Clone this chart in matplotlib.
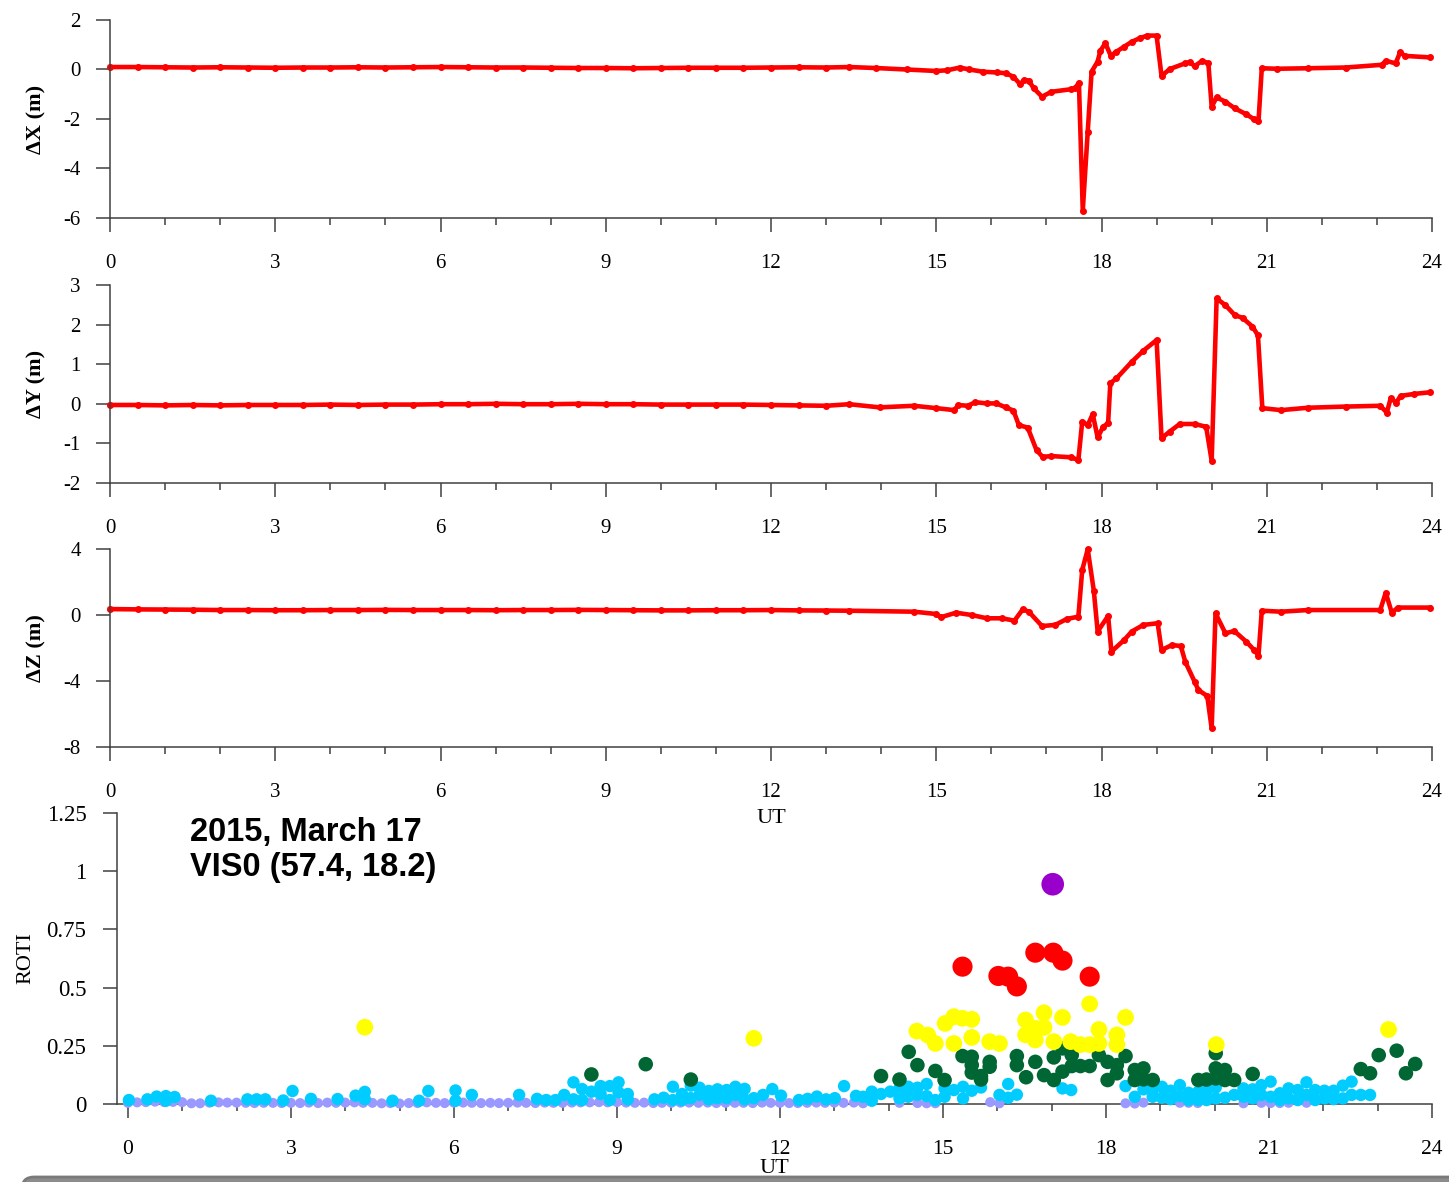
"""ROTI and position error at VIS0, 2015 March 17."""

import matplotlib as mpl
mpl.use("Agg")
import matplotlib.pyplot as plt
from matplotlib.patches import FancyBboxPatch
from matplotlib.ticker import MultipleLocator
from matplotlib.transforms import IdentityTransform

mpl.rcParams.update({
    "font.family": "serif",
    "font.serif": ["Liberation Serif", "DejaVu Serif"],
    "axes.spines.right": False,
    "axes.spines.top": False,
    "axes.linewidth": 1.1,
    "axes.edgecolor": "#404040",
    "xtick.color": "#404040",
    "ytick.color": "#404040",
    "xtick.labelcolor": "black",
    "ytick.labelcolor": "black",
})

W, H = 1449, 1182

# ── Data ─────────────────────────────────────────────────────────────

# position errors (UT hours, metres)
t_dx = [0, 0.5, 1, 1.5, 2, 2.5, 3, 3.5, 4, 4.5, 5, 5.5, 6, 6.5, 7, 7.5, 8,
        8.5, 9, 9.5, 10, 10.5, 11, 11.5, 12, 12.5, 13,
        13.42, 13.9, 14.46, 15.0, 15.2, 15.43, 15.6, 15.85, 16.1, 16.26,
        16.4, 16.52, 16.6, 16.68, 16.77, 16.92, 17.09, 17.44, 17.52, 17.59,
        17.66, 17.75, 17.82, 17.93, 17.98, 18.07, 18.17, 18.27, 18.41, 18.55,
        18.69, 18.83, 19.0, 19.09, 19.24, 19.52, 19.6, 19.69, 19.83, 19.94,
        20.0, 20.09, 20.25, 20.42, 20.63, 20.77, 20.85, 20.91, 21.19, 21.74,
        22.43, 23.09, 23.16, 23.34, 23.42, 23.51, 23.96]
dx = [0.10, 0.10, 0.09, 0.08, 0.09, 0.08, 0.07, 0.08, 0.08, 0.09, 0.08, 0.09,
      0.10, 0.09, 0.08, 0.08, 0.07, 0.06, 0.06, 0.05, 0.06, 0.07, 0.07, 0.07,
      0.08, 0.09, 0.08,
      0.10, 0.06, 0.00, -0.06, -0.03, 0.08, 0.00, -0.09, -0.12, -0.15,
      -0.29, -0.59, -0.42, -0.45, -0.76, -1.10, -0.90, -0.80, -0.76, -0.53,
      -5.70, -2.51, -0.09, 0.32, 0.76, 1.06, 0.55, 0.72, 0.92, 1.12,
      1.26, 1.37, 1.37, -0.26, 0.02, 0.25, 0.30, 0.14, 0.35, 0.25,
      -1.50, -1.13, -1.30, -1.57, -1.81, -2.01, -2.10, 0.05, 0.03, 0.05,
      0.08, 0.19, 0.35, 0.25, 0.69, 0.55, 0.49]

t_dy = [0, 0.5, 1, 1.5, 2, 2.5, 3, 3.5, 4, 4.5, 5, 5.5, 6, 6.5, 7, 7.5, 8,
        8.5, 9, 9.5, 10, 10.5, 11, 11.5, 12, 12.5, 13,
        13.42, 13.97, 14.6, 15.0, 15.33, 15.4, 15.57, 15.71, 15.92, 16.09,
        16.26, 16.4, 16.5, 16.66, 16.82, 16.93, 17.09, 17.44, 17.58, 17.65,
        17.75, 17.84, 17.93, 18.03, 18.12, 18.16, 18.27, 18.55, 18.76, 19.0,
        19.09, 19.24, 19.42, 19.69, 19.9, 20.0, 20.09, 20.25, 20.42, 20.56,
        20.74, 20.84, 20.92, 21.26, 21.74, 22.43, 23.06, 23.18, 23.25, 23.35,
        23.43, 23.68, 23.96]
dy = [-0.03, -0.03, -0.04, -0.03, -0.04, -0.03, -0.03, -0.03, -0.02, -0.03,
      -0.02, -0.02, -0.01, -0.01, 0.00, -0.01, -0.01, 0.00, -0.01, -0.01,
      -0.02, -0.02, -0.02, -0.02, -0.03, -0.04, -0.05,
      -0.01, -0.09, -0.05, -0.11, -0.16, -0.03, -0.05, 0.04, 0.01, 0.01,
      -0.09, -0.17, -0.54, -0.60, -1.17, -1.34, -1.32, -1.35, -1.42, -0.45,
      -0.54, -0.26, -0.85, -0.58, -0.49, 0.52, 0.64, 1.06, 1.34, 1.61,
      -0.87, -0.70, -0.51, -0.51, -0.58, -1.44, 2.66, 2.49, 2.24, 2.17,
      1.95, 1.73, -0.11, -0.16, -0.10, -0.07, -0.05, -0.22, 0.14, 0.03,
      0.20, 0.25, 0.29]

t_dz = [0, 0.5, 1, 1.5, 2, 2.5, 3, 3.5, 4, 4.5, 5, 5.5, 6, 6.5, 7, 7.5, 8,
        8.5, 9, 9.5, 10, 10.5, 11, 11.5, 12, 12.5, 13,
        13.42, 14.6, 15.0, 15.08, 15.36, 15.64, 15.92, 16.19, 16.42, 16.57,
        16.68, 16.92, 17.16, 17.37, 17.58, 17.65, 17.75, 17.86, 17.93, 18.12,
        18.18, 18.41, 18.55, 18.76, 19.02, 19.09, 19.28, 19.44, 19.52, 19.69,
        19.76, 19.92, 20.0, 20.07, 20.25, 20.41, 20.63, 20.77, 20.85, 20.91,
        21.26, 21.74, 23.06, 23.16, 23.27, 23.38, 23.96]
dz = [0.36, 0.34, 0.33, 0.32, 0.30, 0.30, 0.29, 0.29, 0.30, 0.30, 0.31, 0.30,
      0.30, 0.30, 0.29, 0.30, 0.30, 0.31, 0.30, 0.29, 0.28, 0.28, 0.29, 0.29,
      0.30, 0.28, 0.27,
      0.26, 0.20, 0.06, -0.14, 0.14, 0.00, -0.20, -0.20, -0.34, 0.34,
      0.20, -0.67, -0.60, -0.24, -0.10, 2.73, 3.98, 1.48, -1.00, -0.06,
      -2.22, -1.52, -1.00, -0.60, -0.50, -2.12, -1.82, -1.88, -2.83, -4.04,
      -4.55, -4.91, -6.87, 0.10, -1.11, -0.97, -1.62, -2.12, -2.46, 0.26,
      0.20, 0.30, 0.30, 1.35, 0.14, 0.45, 0.45]

# ROTI (TECU/min), grouped by colour class
roti_lav_t = [0, 0.17, 0.33, 0.5, 0.67, 0.83, 1, 1.17, 1.33, 1.5, 1.67, 1.83,
              2, 2.17, 2.33, 2.5, 2.67, 2.83, 3, 3.17, 3.33, 3.5, 3.67, 3.83,
              4, 4.17, 4.33, 4.5, 4.67, 4.83, 5, 5.17, 5.33, 5.5, 5.67, 5.83,
              6, 6.17, 6.33, 6.5, 6.67, 6.83, 7, 7.17, 7.33, 7.5, 7.67, 7.83,
              8, 8.17, 8.33, 8.5, 8.67, 8.83, 9, 9.17, 9.33, 9.5, 9.67, 9.83,
              10, 10.17, 10.33, 10.5, 10.67, 10.83, 11, 11.17, 11.33, 11.5,
              11.67, 11.83, 12, 12.17, 12.33, 12.5, 12.67, 12.83, 13, 13.17,
              13.36, 13.53, 14.2, 14.53, 14.7, 14.86, 15.87, 16.04, 18.36,
              18.53, 18.69, 19.36, 19.52, 19.69, 20.53, 20.86, 21.03, 21.2,
              21.36, 21.69]
roti_lav_v = [0.005, 0.007, 0.008, 0.010, 0.008, 0.009, 0.008, 0.003, 0.003,
              0.006, 0.007, 0.006, 0.006, 0.005, 0.004, 0.005, 0.005, 0.004,
              0.005, 0.004, 0.006, 0.004, 0.006, 0.005, 0.006, 0.007, 0.005,
              0.005, 0.003, 0.004, 0.002, 0.004, 0.004, 0.007, 0.005, 0.004,
              0.006, 0.006, 0.005, 0.004, 0.005, 0.004, 0.005, 0.006, 0.005,
              0.004, 0.006, 0.005, 0.005, 0.006, 0.007, 0.007, 0.008, 0.007,
              0.008, 0.006, 0.005, 0.006, 0.004, 0.005, 0.005, 0.006, 0.006,
              0.005, 0.006, 0.004, 0.005, 0.005, 0.005, 0.004, 0.006, 0.005,
              0.005, 0.004, 0.004, 0.005, 0.006, 0.005, 0.006, 0.005, 0.006,
              0.003, 0.005, 0.004, 0.003, 0.003, 0.008, 0.003, 0.003, 0.002,
              0.006, 0.005, 0.005, 0.004, 0.003, 0.005, 0.004, 0.004, 0.005,
              0.005]

roti_cyan_t = [0.02, 0.36, 0.53, 0.7, 0.7, 0.86, 1.53, 2.2, 2.37, 2.53, 2.86,
               3.03, 3.37, 3.86, 4.19, 4.36, 4.36, 4.87, 5.36, 5.53, 6.03,
               6.03, 6.33, 7.2, 7.53, 7.7, 7.87, 8.03, 8.2, 8.2, 8.36, 8.36,
               8.53, 8.7, 8.7, 8.87, 8.87, 9.03, 9.03, 9.2, 9.2, 9.69, 9.86,
               10.03, 10.03, 10.2, 10.2, 10.36, 10.36, 10.52, 10.52, 10.69,
               10.69, 10.85, 10.85, 11.02, 11.02, 11.18, 11.18, 11.35, 11.35,
               11.52, 11.69, 11.86, 12.02, 12.35, 12.51, 12.68, 12.85, 13.01,
               13.18, 13.4, 13.53, 13.69, 13.69, 13.86, 14.03, 14.2, 14.2,
               14.36, 14.36, 14.53, 14.53, 14.7, 14.7, 14.86, 15.03, 15.03,
               15.2, 15.37, 15.37, 15.53, 15.7, 16.04, 16.2, 16.2, 16.36,
               17.2, 17.36, 18.36, 18.53, 18.69, 18.86, 18.86, 19.03, 19.03,
               19.19, 19.19, 19.36, 19.36, 19.52, 19.52, 19.7, 19.7, 19.85,
               19.85, 20.02, 20.02, 20.19, 20.36, 20.53, 20.53, 20.7, 20.7,
               20.86, 20.86, 21.03, 21.03, 21.2, 21.2, 21.36, 21.36, 21.53,
               21.53, 21.69, 21.69, 21.85, 21.85, 22.02, 22.02, 22.19, 22.19,
               22.36, 22.36, 22.52, 22.52, 22.69, 22.86]
roti_cyan_v = [0.017, 0.020, 0.032, 0.034, 0.014, 0.030, 0.014, 0.020, 0.020,
               0.020, 0.015, 0.056, 0.022, 0.021, 0.036, 0.052, 0.021, 0.014,
               0.014, 0.056, 0.058, 0.014, 0.039, 0.039, 0.022, 0.017, 0.017,
               0.039, 0.093, 0.020, 0.064, 0.017, 0.053, 0.077, 0.043, 0.077,
               0.017, 0.093, 0.050, 0.043, 0.020, 0.020, 0.027, 0.074, 0.017,
               0.043, 0.017, 0.025, 0.079, 0.070, 0.039, 0.056, 0.020, 0.063,
               0.025, 0.060, 0.025, 0.074, 0.039, 0.065, 0.020, 0.025, 0.039,
               0.064, 0.036, 0.017, 0.022, 0.032, 0.020, 0.025, 0.077, 0.035,
               0.031, 0.053, 0.014, 0.043, 0.053, 0.067, 0.024, 0.074, 0.031,
               0.070, 0.039, 0.086, 0.034, 0.017, 0.067, 0.031, 0.060, 0.074,
               0.024, 0.057, 0.071, 0.039, 0.086, 0.027, 0.040, 0.067, 0.060,
               0.077, 0.031, 0.063, 0.031, 0.060, 0.074, 0.027, 0.057, 0.021,
               0.081, 0.034, 0.048, 0.017, 0.053, 0.017, 0.057, 0.017, 0.071,
               0.024, 0.027, 0.039, 0.067, 0.031, 0.063, 0.024, 0.081, 0.039,
               0.096, 0.031, 0.046, 0.017, 0.067, 0.024, 0.060, 0.017, 0.093,
               0.039, 0.060, 0.017, 0.057, 0.024, 0.057, 0.021, 0.079, 0.024,
               0.096, 0.039, 0.039, 0.039]

roti_green_t = [8.53, 9.53, 10.36, 13.86, 14.2, 14.37, 14.53, 14.86, 15.03,
                15.36, 15.53, 15.53, 15.53, 15.7, 15.7, 15.86, 15.86, 16.36,
                16.36, 16.53, 16.7, 16.86, 17.04, 17.04, 17.2, 17.2, 17.37,
                17.37, 17.53, 17.7, 17.87, 18.03, 18.03, 18.2, 18.2, 18.36,
                18.53, 18.53, 18.69, 18.69, 18.86, 19.7, 19.85, 20.02, 20.02,
                20.02, 20.19, 20.19, 20.36, 20.7, 22.69, 22.86, 23.02, 23.35,
                23.52, 23.69]
roti_green_v = [0.127, 0.171, 0.105, 0.120, 0.105, 0.224, 0.167, 0.142, 0.103,
                0.206, 0.203, 0.167, 0.135, 0.120, 0.105, 0.181, 0.160, 0.206,
                0.167, 0.115, 0.181, 0.124, 0.200, 0.103, 0.239, 0.139, 0.210,
                0.163, 0.163, 0.163, 0.210, 0.181, 0.103, 0.167, 0.132, 0.206,
                0.146, 0.103, 0.153, 0.106, 0.103, 0.103, 0.105, 0.218, 0.153,
                0.110, 0.146, 0.103, 0.103, 0.129, 0.150, 0.132, 0.210, 0.229,
                0.132, 0.172]

roti_yellow_t = [4.36, 11.52, 14.52, 14.72, 14.86, 15.04, 15.2, 15.2, 15.36,
                 15.53, 15.53, 15.86, 16.04, 16.52, 16.52, 16.7, 16.7, 16.86,
                 16.86, 17.04, 17.2, 17.35, 17.53, 17.7, 17.7, 17.87, 17.87,
                 18.2, 18.2, 18.36, 20.03, 23.2]
roti_yellow_v = [0.330, 0.282, 0.313, 0.296, 0.260, 0.346, 0.375, 0.260, 0.368,
                 0.364, 0.286, 0.268, 0.260, 0.361, 0.297, 0.325, 0.275, 0.392,
                 0.329, 0.268, 0.372, 0.268, 0.255, 0.430, 0.255, 0.320, 0.260,
                 0.297, 0.255, 0.372, 0.255, 0.320]

roti_red_t = [15.36, 16.02, 16.2, 16.36, 16.7, 17.03, 17.2, 17.7]
roti_red_v = [0.590, 0.550, 0.547, 0.505, 0.650, 0.650, 0.616, 0.547]

roti_purple_t = [17.02]
roti_purple_v = [0.944]

# (times, values, colour, marker area)
roti_groups = [
    (roti_lav_t, roti_lav_v, "#9999ff", 52),
    (roti_cyan_t, roti_cyan_v, "#00ccff", 80),
    (roti_green_t, roti_green_v, "#006633", 110),
    (roti_yellow_t, roti_yellow_v, "#ffff00", 145),
    (roti_red_t, roti_red_v, "#ff0000", 210),
    (roti_purple_t, roti_purple_v, "#9900cc", 265),
]

hour_ticks = [0, 3, 6, 9, 12, 15, 18, 21, 24]


# ── Helpers ──────────────────────────────────────────────────────────

def px_axes(fig, left, top, right, bottom):
    return fig.add_axes([left / W, 1 - bottom / H, (right - left) / W,
                         (bottom - top) / H])


def style_time_axis(ax, xlab_size=15):
    ax.set_xticks(hour_ticks)
    ax.xaxis.set_minor_locator(MultipleLocator(1))
    ax.tick_params(axis="x", which="major", length=10, width=1.1,
                   pad=16, labelsize=xlab_size)
    ax.tick_params(axis="x", which="minor", length=5, width=1.1)
    ax.tick_params(axis="y", which="major", length=10, width=1.1, pad=11)


def draw_offset(ax, t, v, ylim, yticks, label):
    ax.plot(t, v, color="red", linewidth=3.3, marker="o", markersize=4,
            solid_joinstyle="round", clip_on=False)
    ax.set_xlim(0, 24)
    ax.set_ylim(ylim)
    ax.set_yticks(yticks)
    ax.set_yticklabels([str(y) for y in yticks], fontsize=15)
    style_time_axis(ax)
    ax.set_ylabel(label, fontsize=16, fontweight="bold", labelpad=12)


# ── Figure ───────────────────────────────────────────────────────────

def make_figure():
    fig = plt.figure(figsize=(W / 100, H / 100), dpi=100)

    ax1 = px_axes(fig, 110, 20, 1432, 218)
    draw_offset(ax1, t_dx, dx, (-6, 2), [2, 0, -2, -4, -6], "ΔX (m)")

    ax2 = px_axes(fig, 110, 285, 1432, 483)
    draw_offset(ax2, t_dy, dy, (-2, 3), [3, 2, 1, 0, -1, -2], "ΔY (m)")

    ax3 = px_axes(fig, 110, 549, 1432, 747)
    draw_offset(ax3, t_dz, dz, (-8, 4), [4, 0, -4, -8], "ΔZ (m)")
    ax3.set_xlabel("UT", fontsize=16, labelpad=5)

    ax4 = px_axes(fig, 117, 813, 1432, 1104)
    ax4.patch.set_visible(False)
    for t, v, c, s in roti_groups:
        ax4.scatter(t, v, s=s, color=c, edgecolors="none", clip_on=False,
                    zorder=3)
    ax4.set_xlim(-0.2, 24)
    ax4.set_ylim(0, 1.25)
    roti_ticks = [0, 0.25, 0.5, 0.75, 1, 1.25]
    ax4.set_yticks(roti_ticks)
    ax4.set_yticklabels(["0", "0.25", "0.5", "0.75", "1", "1.25"], fontsize=16.5)
    style_time_axis(ax4, xlab_size=15.5)
    ax4.tick_params(axis="y", pad=12)
    ax4.set_ylabel("ROTI", fontsize=16, labelpad=8)
    ax4.set_xlabel("UT", fontsize=16, labelpad=0)
    ax4.text(0.0557, 0.985, "2015, March 17\nVIS0 (57.4, 18.2)",
             transform=ax4.transAxes, ha="left", va="top", fontsize=23.5,
             fontweight="bold", family="Liberation Sans", linespacing=1.15)

    # grey frame edge peeking in at the bottom of the page
    bar = FancyBboxPatch((22, -30), 1480, 35,
                         boxstyle="round,pad=0,rounding_size=12",
                         transform=IdentityTransform(), facecolor="#8c8c8c",
                         edgecolor="#7a7a7a", linewidth=2, zorder=10)
    fig.add_artist(bar)

    fig.savefig("out.png", dpi=100)
    plt.close(fig)


if __name__ == "__main__":
    make_figure()
